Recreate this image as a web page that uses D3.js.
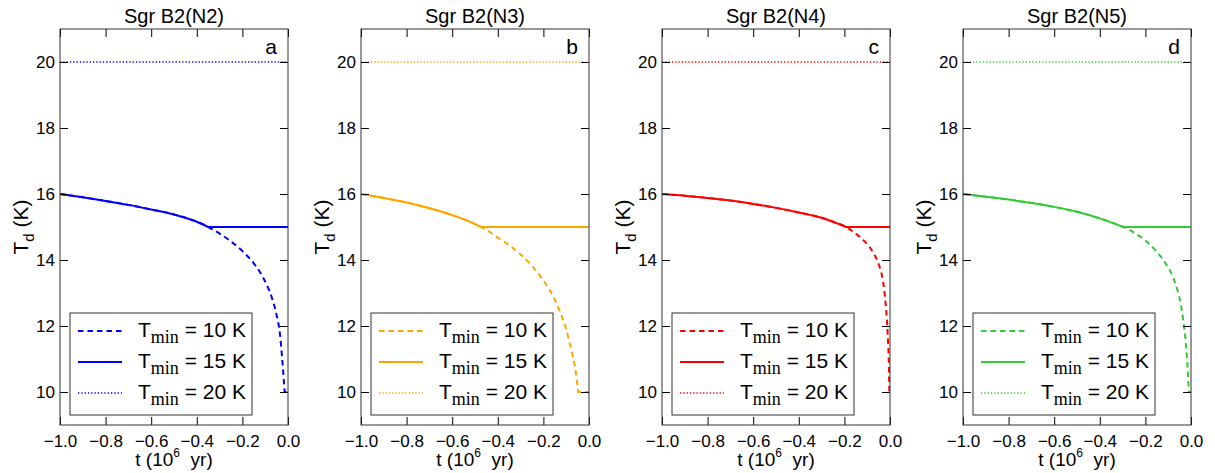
<!DOCTYPE html>
<html>
<head>
<meta charset="utf-8">
<script src="https://cdn.jsdelivr.net/npm/d3@7"></script>
<style>
  html, body { margin: 0; padding: 0; background: #fff; }
  svg { display: block; }
  text { font-family: "Liberation Sans", Arial, sans-serif; fill: #000; }
  tspan.serif { font-family: "Liberation Serif", "DejaVu Serif", serif; }
</style>
</head>
<body>
<svg id="chart" width="1215" height="473"></svg>
<script>
// Sources, panel letters and line colours
const sources = ["Sgr B2(N2)", "Sgr B2(N3)", "Sgr B2(N4)", "Sgr B2(N5)"];
const panelLetters = ["a", "b", "c", "d"];
const sourceColors = ["#0000ff", "#ffa500", "#ff0000", "#32cd32"];

// Axis ticks
const xTicks = [-1.0, -0.8, -0.6, -0.4, -0.2, 0.0];
const yTicks = [10, 12, 14, 16, 18, 20];

// Minimum dust temperatures of the three models (K)
const tminValues = [10, 15, 20];

// Time before present (10^6 yr) and dust temperature (K), Tmin = 10 K
const n2Time10 = [-1.0, -0.9, -0.8, -0.7, -0.6, -0.5, -0.45, -0.4, -0.35, -0.3, -0.25, -0.2, -0.15, -0.12, -0.09, -0.07, -0.05, -0.035, -0.026, -0.019, -0.015, 0.0];
const n2Temp10 = [16.0, 15.90, 15.79, 15.67, 15.53, 15.38, 15.28, 15.16, 15.0, 14.80, 14.56, 14.27, 13.90, 13.60, 13.20, 12.84, 12.33, 11.74, 11.05, 10.42, 10.0, 10.0];
const n3Time10 = [-1.0, -0.9, -0.8, -0.7, -0.6, -0.5, -0.474, -0.45, -0.4, -0.35, -0.3, -0.25, -0.2, -0.16, -0.13, -0.1, -0.08, -0.065, -0.056, -0.047, 0.0];
const n3Temp10 = [16.0, 15.88, 15.74, 15.57, 15.36, 15.09, 15.0, 14.91, 14.68, 14.45, 14.17, 13.82, 13.38, 12.94, 12.48, 11.90, 11.35, 10.90, 10.50, 10.0, 10.0];
const n4Time10 = [-1.0, -0.9, -0.8, -0.7, -0.6, -0.5, -0.4, -0.3, -0.25, -0.193, -0.15, -0.12, -0.09, -0.07, -0.05, -0.035, -0.025, -0.018, -0.012, -0.008, -0.005, -0.003, 0.0];
const n4Temp10 = [16.0, 15.95, 15.88, 15.80, 15.70, 15.58, 15.44, 15.28, 15.16, 15.0, 14.80, 14.62, 14.40, 14.18, 13.88, 13.52, 13.08, 12.58, 12.02, 11.42, 10.82, 10.0, 10.0];
const n5Time10 = [-1.0, -0.9, -0.8, -0.7, -0.6, -0.5, -0.4, -0.35, -0.296, -0.25, -0.2, -0.15, -0.11, -0.08, -0.06, -0.045, -0.034, -0.025, -0.018, -0.013, -0.01, 0.0];
const n5Temp10 = [16.0, 15.92, 15.83, 15.73, 15.61, 15.46, 15.26, 15.14, 15.0, 14.83, 14.59, 14.25, 13.88, 13.50, 13.10, 12.66, 12.18, 11.64, 11.05, 10.52, 10.0, 10.0];

// Tmin = 15 K
const n2Time15 = [-1.0, -0.9, -0.8, -0.7, -0.6, -0.5, -0.45, -0.4, -0.35, 0.0];
const n2Temp15 = [16.0, 15.90, 15.79, 15.67, 15.53, 15.38, 15.28, 15.16, 15.0, 15.0];
const n3Time15 = [-1.0, -0.9, -0.8, -0.7, -0.6, -0.5, -0.474, 0.0];
const n3Temp15 = [16.0, 15.88, 15.74, 15.57, 15.36, 15.09, 15.0, 15.0];
const n4Time15 = [-1.0, -0.9, -0.8, -0.7, -0.6, -0.5, -0.4, -0.3, -0.25, -0.193, 0.0];
const n4Temp15 = [16.0, 15.95, 15.88, 15.80, 15.70, 15.58, 15.44, 15.28, 15.16, 15.0, 15.0];
const n5Time15 = [-1.0, -0.9, -0.8, -0.7, -0.6, -0.5, -0.4, -0.35, -0.296, 0.0];
const n5Temp15 = [16.0, 15.92, 15.83, 15.73, 15.61, 15.46, 15.26, 15.14, 15.0, 15.0];

// Tmin = 20 K (constant)
const time20 = [-1.0, 0.0];
const temp20 = [20.0, 20.0];

const seriesTime = [
  [n2Time10, n2Time15, time20],
  [n3Time10, n3Time15, time20],
  [n4Time10, n4Time15, time20],
  [n5Time10, n5Time15, time20]
];
const seriesTemp = [
  [n2Temp10, n2Temp15, temp20],
  [n3Temp10, n3Temp15, temp20],
  [n4Temp10, n4Temp15, temp20],
  [n5Temp10, n5Temp15, temp20]
];

// Line styles per Tmin model: dashed, solid, dotted
const dashStyles = ["5.5,4", null, "1.3,2"];
const strokeWidths = [2, 2, 1.3];

const svg = d3.select("#chart");
const panelW = 228, panelTop = 29, panelBottom = 425, panelStep = 301, firstLeft = 60;
const fmt = d3.format(".1f");
const tickLen = 8;

sources.forEach((name, i) => {
  const left = firstLeft + panelStep * i;
  const x = d3.scaleLinear().domain([-1, 0]).range([left, left + panelW]);
  const y = d3.scaleLinear().domain([9, 21]).range([panelBottom, panelTop]);
  const g = svg.append("g");
  const color = sourceColors[i];

  // Clip region for data
  const clipId = "clip" + i;
  svg.append("clipPath").attr("id", clipId)
    .append("rect").attr("x", left).attr("y", panelTop)
    .attr("width", panelW).attr("height", panelBottom - panelTop);

  // Data lines: declining part smoothed, floor drawn straight
  const line = d3.line().x(d => x(d[0])).y(d => y(d[1])).curve(d3.curveMonotoneX);
  const plot = g.append("g").attr("clip-path", `url(#${clipId})`);
  seriesTime[i].forEach((ts, k) => {
    const pts = ts.map((t, j) => [t, seriesTemp[i][k][j]]);
    const last = pts[pts.length - 1];
    let flatStart = pts.length - 1;
    while (flatStart > 0 && pts[flatStart - 1][1] === last[1]) flatStart--;
    let d;
    if (flatStart === 0) {
      d = d3.line().x(p => x(p[0])).y(p => y(p[1]))(pts);
    } else {
      d = line(pts.slice(0, flatStart + 1)) + "L" + x(last[0]) + "," + y(last[1]);
    }
    plot.append("path")
      .attr("d", d)
      .attr("fill", "none")
      .attr("stroke", color)
      .attr("stroke-width", strokeWidths[k])
      .attr("stroke-dasharray", dashStyles[k]);
  });

  // Axes with inward ticks on all four sides
  const axB = d3.axisBottom(x).tickValues(xTicks).tickFormat(fmt).tickSizeInner(-tickLen).tickSizeOuter(0).tickPadding(6);
  const axT = d3.axisTop(x).tickValues(xTicks).tickFormat("").tickSizeInner(-tickLen).tickSizeOuter(0);
  const axL = d3.axisLeft(y).tickValues(yTicks).tickFormat(d3.format("d")).tickSizeInner(-tickLen).tickSizeOuter(0).tickPadding(5);
  const axR = d3.axisRight(y).tickValues(yTicks).tickFormat("").tickSizeInner(-tickLen).tickSizeOuter(0);

  const gb = g.append("g").attr("transform", `translate(0,${panelBottom})`).call(axB);
  const gt = g.append("g").attr("transform", `translate(0,${panelTop})`).call(axT);
  const gl = g.append("g").attr("transform", `translate(${left},0)`).call(axL);
  const gr = g.append("g").attr("transform", `translate(${left + panelW},0)`).call(axR);
  [gb, gt, gl, gr].forEach(a => {
    a.select(".domain").remove();
    a.selectAll(".tick line").attr("stroke", "#000").attr("stroke-width", 1);
    a.selectAll(".tick text").attr("font-size", 17).attr("font-family", "Liberation Sans, Arial, sans-serif").attr("fill", "#000");
  });
  gb.selectAll(".tick text").attr("dy", "0.95em");

  // Frame
  g.append("rect")
    .attr("x", left).attr("y", panelTop)
    .attr("width", panelW).attr("height", panelBottom - panelTop)
    .attr("fill", "none").attr("stroke", "#333").attr("stroke-width", 1);

  // Title and panel letter
  g.append("text").attr("x", left + panelW / 2).attr("y", 23)
    .attr("text-anchor", "middle").attr("font-size", 20).text(name);
  g.append("text").attr("x", left + panelW - 11).attr("y", 54)
    .attr("text-anchor", "end").attr("font-size", 21).text(panelLetters[i]);

  // Axis labels
  const yl = g.append("text")
    .attr("transform", `translate(${left - 32},${(panelTop + panelBottom) / 2}) rotate(-90)`)
    .attr("text-anchor", "middle").attr("font-size", 21);
  yl.append("tspan").text("T");
  yl.append("tspan").attr("font-size", 15).attr("dy", 6).text("d");
  yl.append("tspan").attr("dy", -6).text("\u00a0(K)");

  const xl = g.append("text")
    .attr("x", left + panelW / 2).attr("y", 466)
    .attr("text-anchor", "middle").attr("font-size", 19);
  xl.append("tspan").text("t (10");
  xl.append("tspan").attr("font-size", 12).attr("dy", -9).text("6");
  xl.append("tspan").attr("dy", 9).text("\u00a0\u00a0yr)");

  // Legend
  const lg = g.append("g");
  lg.append("rect")
    .attr("x", left + 10).attr("y", 313)
    .attr("width", 182).attr("height", 102)
    .attr("fill", "#fff").attr("stroke", "#333").attr("stroke-width", 1);
  tminValues.forEach((tm, k) => {
    const ly = 331 + k * 31;
    lg.append("line")
      .attr("x1", left + 18).attr("x2", left + 62)
      .attr("y1", ly).attr("y2", ly)
      .attr("stroke", color)
      .attr("stroke-width", strokeWidths[k])
      .attr("stroke-dasharray", dashStyles[k]);
    const t = lg.append("text").attr("x", left + 78).attr("y", ly + 6).attr("font-size", 21);
    t.append("tspan").text("T");
    t.append("tspan").attr("class", "serif")
      .attr("font-size", 18).attr("dy", 6).text("min");
    t.append("tspan").attr("dy", -6).text("\u00a0= " + tm + " K");
  });
});
</script>
</body>
</html>
